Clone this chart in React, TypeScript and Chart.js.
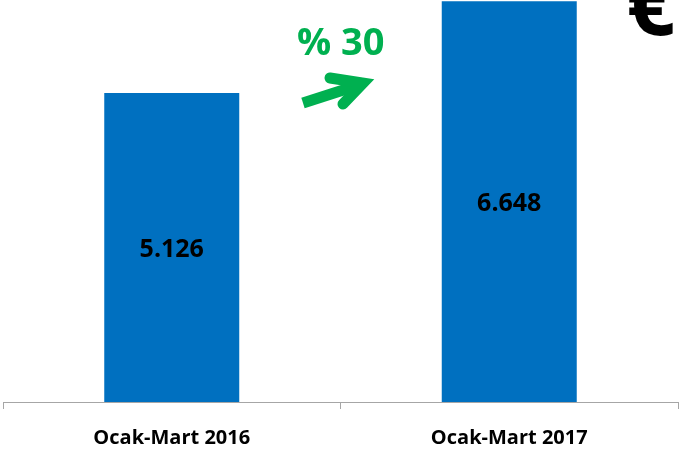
import React, { useEffect, useRef } from "react";
import { Chart, registerables } from "chart.js";

Chart.register(...registerables);

const categories = ["Ocak-Mart 2016", "Ocak-Mart 2017"];
const values = [5.126, 6.648];
const valueLabels = ["5.126", "6.648"];
const growthLabel = "% 30";
const currencyLabel = "€";

const FONT = "'Open Sans', 'DejaVu Sans', sans-serif";

const annotations = {
  id: "annotations",
  afterDatasetsDraw(chart: any) {
    const ctx = chart.ctx;
    const meta = chart.getDatasetMeta(0);
    ctx.save();
    // value labels at bar centres
    ctx.fillStyle = "#000000";
    ctx.font = `bold 25px ${FONT}`;
    ctx.textAlign = "center";
    ctx.textBaseline = "middle";
    meta.data.forEach((bar: any, i: number) => {
      const y = (bar.y + bar.base) / 2 + 2;
      ctx.fillText(valueLabels[i], bar.x, y);
    });
    // growth text
    ctx.fillStyle = "#00B050";
    ctx.font = `bold 38px ${FONT}`;
    ctx.textAlign = "left";
    ctx.textBaseline = "alphabetic";
    ctx.fillText(growthLabel, 297, 55);
    // arrow
    ctx.strokeStyle = "#00B050";
    ctx.lineWidth = 11;
    ctx.lineCap = "butt";
    ctx.lineJoin = "miter";
    ctx.beginPath();
    ctx.moveTo(303, 103);
    ctx.lineTo(362, 84);
    ctx.stroke();
    ctx.beginPath();
    ctx.moveTo(330, 78);
    ctx.lineTo(363, 83);
    ctx.lineTo(343, 104);
    ctx.lineCap = "round";
    ctx.stroke();
    // currency symbol
    ctx.fillStyle = "#000000";
    ctx.font = `bold 86px ${FONT}`;
    ctx.textAlign = "center";
    ctx.fillText(currencyLabel, 651, 35);
    ctx.restore();
  },
};

export default function App() {
  const ref = useRef<HTMLCanvasElement>(null);
  useEffect(() => {
    if (!ref.current) return;
    const chart = new Chart(ref.current, {
      type: "bar",
      data: {
        labels: categories,
        datasets: [
          {
            data: values,
            backgroundColor: "#0070C0",
            borderWidth: 0,
            barPercentage: 0.4,
            categoryPercentage: 1,
          },
        ],
      },
      options: {
        animation: false,
        responsive: false,
        maintainAspectRatio: false,
        layout: { padding: { left: 3, right: 2, top: 0, bottom: 6 } },
        plugins: {
          legend: { display: false },
          tooltip: { enabled: false },
        },
        scales: {
          y: { display: false, min: 0, max: 6.67 },
          x: {
            afterFit: (scale: any) => {
              scale.height = 46;
            },
            border: { display: true, color: "#a6a6a6", width: 1 },
            grid: {
              display: true,
              drawOnChartArea: false,
              drawTicks: true,
              tickLength: 7,
              color: "#a6a6a6",
              offset: true,
            },
            ticks: {
              color: "#000000",
              padding: 17,
              font: { family: FONT, size: 20, weight: "bold" },
              maxRotation: 0,
            },
          },
        },
      },
      plugins: [annotations],
    });
    return () => chart.destroy();
  }, []);
  return (
    <div style={{ position: "fixed", left: 0, top: 0, width: 680, height: 454, background: "#ffffff" }}>
      <canvas ref={ref} width={680} height={454} style={{ display: "block" }} />
    </div>
  );
}
